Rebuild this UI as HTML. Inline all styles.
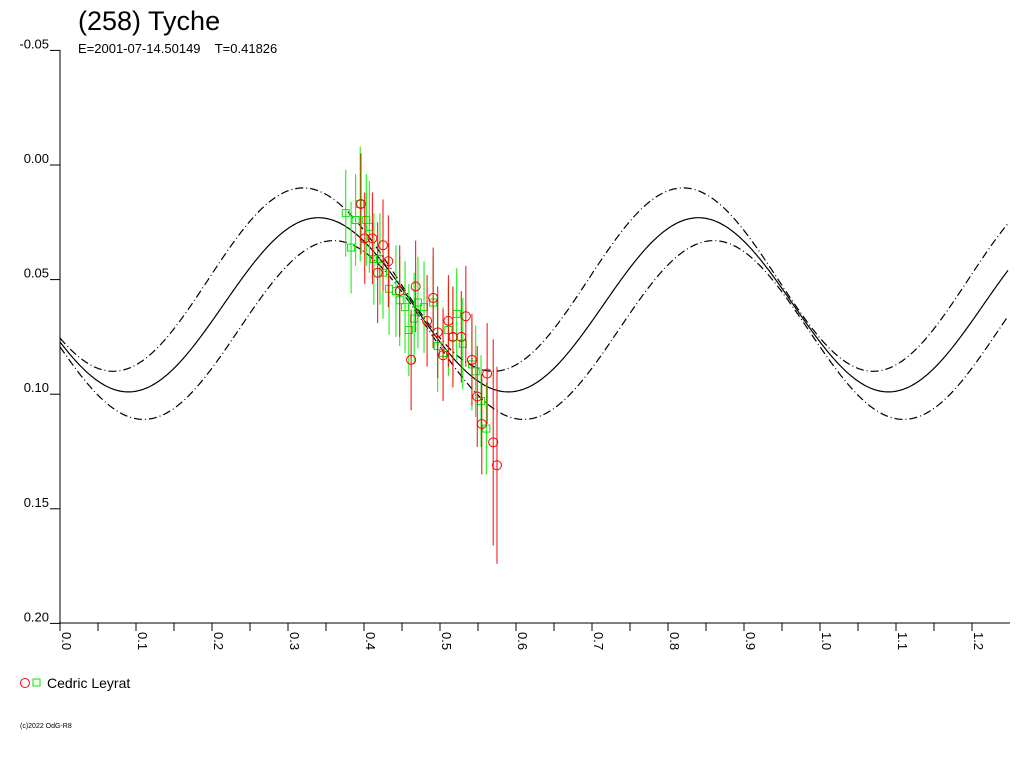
<!DOCTYPE html>
<html><head><meta charset="utf-8"><style>
body{margin:0;background:#fff;font-family:"Liberation Sans",sans-serif}
svg text{font-family:"Liberation Sans",sans-serif}
</style></head><body>
<svg id="c" width="1024" height="768" xmlns="http://www.w3.org/2000/svg">
<text x="78" y="30" font-size="27" fill="#000">(258) Tyche</text>
<text x="78" y="53" font-size="13" fill="#000" xml:space="preserve">E=2001-07-14.50149    T=0.41826</text>
<g id="axes"></g>
<g id="curves"></g>
<g id="pts"></g>
<g>
<circle cx="25" cy="683" r="4.5" fill="none" stroke="#f00"/>
<rect x="33" y="679" width="7" height="7" fill="none" stroke="#0e0"/>
<text x="47" y="688" font-size="14">Cedric Leyrat</text>
</g>
<text x="20" y="728" font-size="7">(c)2022 OdG-R8</text>
</svg>
<script>
const yTicks=[-0.05,0.00,0.05,0.10,0.15,0.20];
const yTickLabels=["-0.05","0.00","0.05","0.10","0.15","0.20"];
const xTicks=[0,0.1,0.2,0.3,0.4,0.5,0.6,0.7,0.8,0.9,1.0,1.1,1.2];
const xTickLabels=["0.0","0.1","0.2","0.3","0.4","0.5","0.6","0.7","0.8","0.9","1.0","1.1","1.2"];
// model params: [mean, amplitude, phaseOfMax]
const modelMain=[0.061,0.038,0.09];
const modelUpper=[0.050,0.040,0.07];
const modelLower=[0.072,0.039,0.11];
const modelPeriod=[0.5];
const redPhase=[0.396,0.401,0.411,0.425,0.432,0.418,0.468,0.447,0.491,0.483,0.511,0.534,0.497,0.528,0.517,0.462,0.504,0.542,0.562,0.549,0.555,0.570,0.575];
const redMag=[0.017,0.032,0.032,0.035,0.042,0.047,0.053,0.055,0.058,0.068,0.068,0.066,0.073,0.075,0.075,0.085,0.083,0.085,0.091,0.101,0.113,0.121,0.131];
const redErr=[0.022,0.02,0.02,0.02,0.02,0.022,0.02,0.02,0.022,0.02,0.02,0.022,0.02,0.02,0.022,0.022,0.02,0.02,0.022,0.022,0.022,0.045,0.043];
const greenPhase=[0.376,0.383,0.389,0.395,0.403,0.407,0.413,0.421,0.425,0.433,0.442,0.447,0.454,0.471,0.479,0.491,0.466,0.459,0.522,0.511,0.517,0.530,0.497,0.504,0.542,0.547,0.554,0.561];
const greenMag=[0.021,0.036,0.024,0.017,0.024,0.027,0.041,0.041,0.047,0.054,0.055,0.059,0.062,0.060,0.062,0.060,0.067,0.072,0.065,0.072,0.075,0.078,0.079,0.082,0.087,0.090,0.103,0.115];
const greenErr=[0.019,0.02,0.02,0.025,0.02,0.02,0.02,0.02,0.02,0.02,0.02,0.02,0.02,0.02,0.02,0.02,0.02,0.02,0.02,0.02,0.02,0.02,0.02,0.02,0.02,0.02,0.02,0.02];

const NS="http://www.w3.org/2000/svg";
const X0=60,XS=760,Y0=165,YS=2292;
const xp=p=>X0+p*XS, yp=m=>Y0+m*YS;
function mk(t,a,parent){const e=document.createElementNS(NS,t);for(const k in a)e.setAttribute(k,a[k]);document.getElementById(parent).appendChild(e);return e;}
// axes
let e=mk('line',{x1:60,y1:50,x2:60,y2:623,stroke:'#000'},'axes');


e=mk('line',{x1:59,y1:623,x2:1010,y2:623,stroke:'#000'},'axes');


yTicks.forEach((v,i)=>{
  const y=yp(v);
  let t=mk('line',{x1:50,y1:y,x2:60,y2:y,stroke:'#000'},'axes');
  
  
  let l=mk('text',{x:49,y:y-2,'font-size':13,'text-anchor':'end'},'axes');
  l.textContent=yTickLabels[i];
  
  
});
for(let k=0;k<=24;k++){
  const x=xp(k*0.05);
  let t=mk('line',{x1:x,y1:623,x2:x,y2:631,stroke:'#000'},'axes');
  
  
}
xTicks.forEach((v,i)=>{
  const x=xp(v)+2;
  let l=mk('text',{x:0,y:0,'font-size':13,transform:`translate(${x},632) rotate(90)`},'axes');
  l.textContent=xTickLabels[i];
  
  
});
// curves
function curve(par,dash,name){
  let d='';
  for(let px=60;px<=1008;px++){
    const p=(px-X0)/XS;
    const m=par[0]+par[1]*Math.cos(2*Math.PI*(p-par[2])/modelPeriod[0]);
    d+=(px==60?'M':'L')+px+','+yp(m).toFixed(1);
  }
  const a={d:d,fill:'none',stroke:'#000','stroke-width':1.2};
  if(dash)a['stroke-dasharray']=dash;
  const c=mk('path',a,'curves');
  
  
}
curve(modelMain,null,'model-curve');
curve(modelUpper,'8,3,1,3','upper-bound-curve');
curve(modelLower,'8,3,1,3','lower-bound-curve');
// points
function series(ph,mg,er,col,shape){
  ph.forEach((p,i)=>{
    const x=xp(p),y=yp(mg[i]);
    const b=mk('line',{x1:x,y1:yp(mg[i]-er[i]),x2:x,y2:yp(mg[i]+er[i]),stroke:col,'stroke-width':1},'pts');
    
    
  });
  ph.forEach((p,i)=>{
    const x=xp(p),y=yp(mg[i]);
    let s;
    if(shape=='c')s=mk('circle',{cx:x,cy:y,r:4.5,fill:'none',stroke:col},'pts');
    else s=mk('rect',{x:x-3.5,y:y-3.5,width:7,height:7,fill:'none',stroke:col},'pts');
    
    
  });
}
series(greenPhase,greenMag,greenErr,'#00ee00','s');
series(redPhase,redMag,redErr,'#ff0000','c');
</script>
</body></html>
